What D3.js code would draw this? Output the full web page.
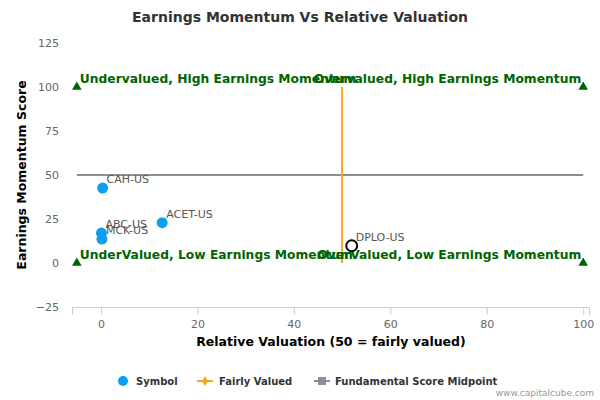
<!DOCTYPE html>
<html><head><meta charset="utf-8">
<script src="https://cdn.jsdelivr.net/npm/d3@7"></script>
<style>body{margin:0;background:#fff}text{font-family:"DejaVu Sans",sans-serif}</style>
</head><body><svg id="c" width="600" height="400"></svg>
<script>
const symbols = ["CAH-US","ABC-US","MCK-US","ACET-US"];
const symX = [0.35, 0.1, 0.2, 12.7];
const symY = [42.6, 17, 13.6, 22.9];
const highlight = {name:"DPLO-US", x:52, y:9.8};
const corners = [[-5,100],[100,100],[-5,0],[100,0]];
const fairX = 50, fairY = [0,100];
const midY = 50, midX = [-5,100];
const xTicks = [0,20,40,60,80,100];
const yTicks = [-25,0,25,50,75,100,125];
const quadLabels = [
 {t:"Undervalued, High Earnings Momentum", x:-5, y:100, a:"start"},
 {t:"Overvalued, High Earnings Momentum", x:100, y:100, a:"end"},
 {t:"UnderValued, Low Earnings Momentum", x:-5, y:0, a:"start"},
 {t:"OverValued, Low Earnings Momentum", x:100, y:0, a:"end"}];

const svg = d3.select("#c");
const x = d3.scaleLinear().domain([-6,101.2]).range([72,589]);
const y = d3.scaleLinear().domain([-25,125]).range([307,43]);

svg.append("text").attr("x",300).attr("y",22).attr("text-anchor","middle")
 .attr("font-size",14).attr("font-weight","bold").attr("fill","#333").text("Earnings Momentum Vs Relative Valuation");

const xa = svg.append("g").attr("transform","translate(0,307)")
 .call(d3.axisBottom(x).tickValues(xTicks).tickSize(8).tickFormat(d3.format("d")));
xa.select(".domain").attr("stroke","#c0d0e0");
xa.selectAll(".tick line").attr("stroke","#c0d0e0");
xa.selectAll("text").attr("fill","#666").attr("font-size",11).attr("dy","0.9em");

const ya = svg.append("g").attr("transform","translate(62,0)")
 .call(d3.axisLeft(y).tickValues(yTicks).tickSize(0).tickFormat(d3.format("d")));
ya.select(".domain").remove();
ya.selectAll("text").attr("fill","#666").attr("font-size",11);

svg.append("text").attr("x",331).attr("y",346).attr("text-anchor","middle")
 .attr("font-size",12.5).attr("font-weight","bold").attr("fill","#000").text("Relative Valuation (50 = fairly valued)");
svg.append("text").attr("transform","translate(26,175) rotate(-90)").attr("text-anchor","middle")
 .attr("font-size",12.5).attr("font-weight","bold").attr("fill","#000").text("Earnings Momentum Score");

svg.append("line").attr("x1",x(midX[0])).attr("x2",x(midX[1])).attr("y1",y(midY)).attr("y2",y(midY))
 .attr("stroke","#8a8f9c").attr("stroke-width",2);
svg.append("line").attr("x1",x(fairX)).attr("x2",x(fairX)).attr("y1",y(fairY[0])).attr("y2",y(fairY[1]))
 .attr("stroke","#f5a623").attr("stroke-width",2);

const tri = d3.symbol().type(d3.symbolTriangle).size(40);
corners.forEach(c=>svg.append("path").attr("d",tri).attr("fill","#006400")
 .attr("transform",`translate(${x(c[0])},${y(c[1])})`));

quadLabels.forEach(q=>svg.append("text").attr("x",x(q.x)+(q.a==="start"?3:-2)).attr("y",y(q.y)-4)
 .attr("text-anchor",q.a).attr("font-size",12.3).attr("font-weight","bold").attr("fill","#006400").text(q.t));

symbols.forEach((s,i)=>{
 svg.append("circle").attr("cx",x(symX[i])).attr("cy",y(symY[i])).attr("r",5.5).attr("fill","#0aa0f0");
 svg.append("text").attr("x",x(symX[i])+4).attr("y",y(symY[i])-5).attr("font-size",11).attr("fill","#555").text(s);
});
svg.append("circle").attr("cx",x(highlight.x)).attr("cy",y(highlight.y)).attr("r",5.5)
 .attr("fill","#fff").attr("stroke","#000").attr("stroke-width",2);
svg.append("text").attr("x",x(highlight.x)+4).attr("y",y(highlight.y)-5).attr("font-size",11).attr("fill","#555").text(highlight.name);

const lg = svg.append("g");
lg.append("circle").attr("cx",123).attr("cy",381).attr("r",5).attr("fill","#0aa0f0");
lg.append("text").attr("x",136).attr("y",385).attr("font-size",10).attr("font-weight","bold").attr("fill","#333").text("Symbol");
lg.append("line").attr("x1",197).attr("x2",213).attr("y1",381).attr("y2",381).attr("stroke","#f5a623").attr("stroke-width",2);
lg.append("path").attr("d",d3.symbol().type(d3.symbolDiamond).size(30)).attr("fill","#f5a623").attr("transform","translate(205,381)");
lg.append("text").attr("x",219).attr("y",385).attr("font-size",10).attr("font-weight","bold").attr("fill","#333").text("Fairly Valued");
lg.append("line").attr("x1",314).attr("x2",330).attr("y1",381).attr("y2",381).attr("stroke","#8a8f9c").attr("stroke-width",2);
lg.append("rect").attr("x",318).attr("y",377).attr("width",8).attr("height",8).attr("fill","#8a8f9c");
lg.append("text").attr("x",335).attr("y",385).attr("font-size",10).attr("font-weight","bold").attr("fill","#333").text("Fundamental Score Midpoint");
svg.append("text").attr("x",594).attr("y",396).attr("text-anchor","end").attr("font-size",9).attr("fill","#999").text("www.capitalcube.com");
</script></body></html>
